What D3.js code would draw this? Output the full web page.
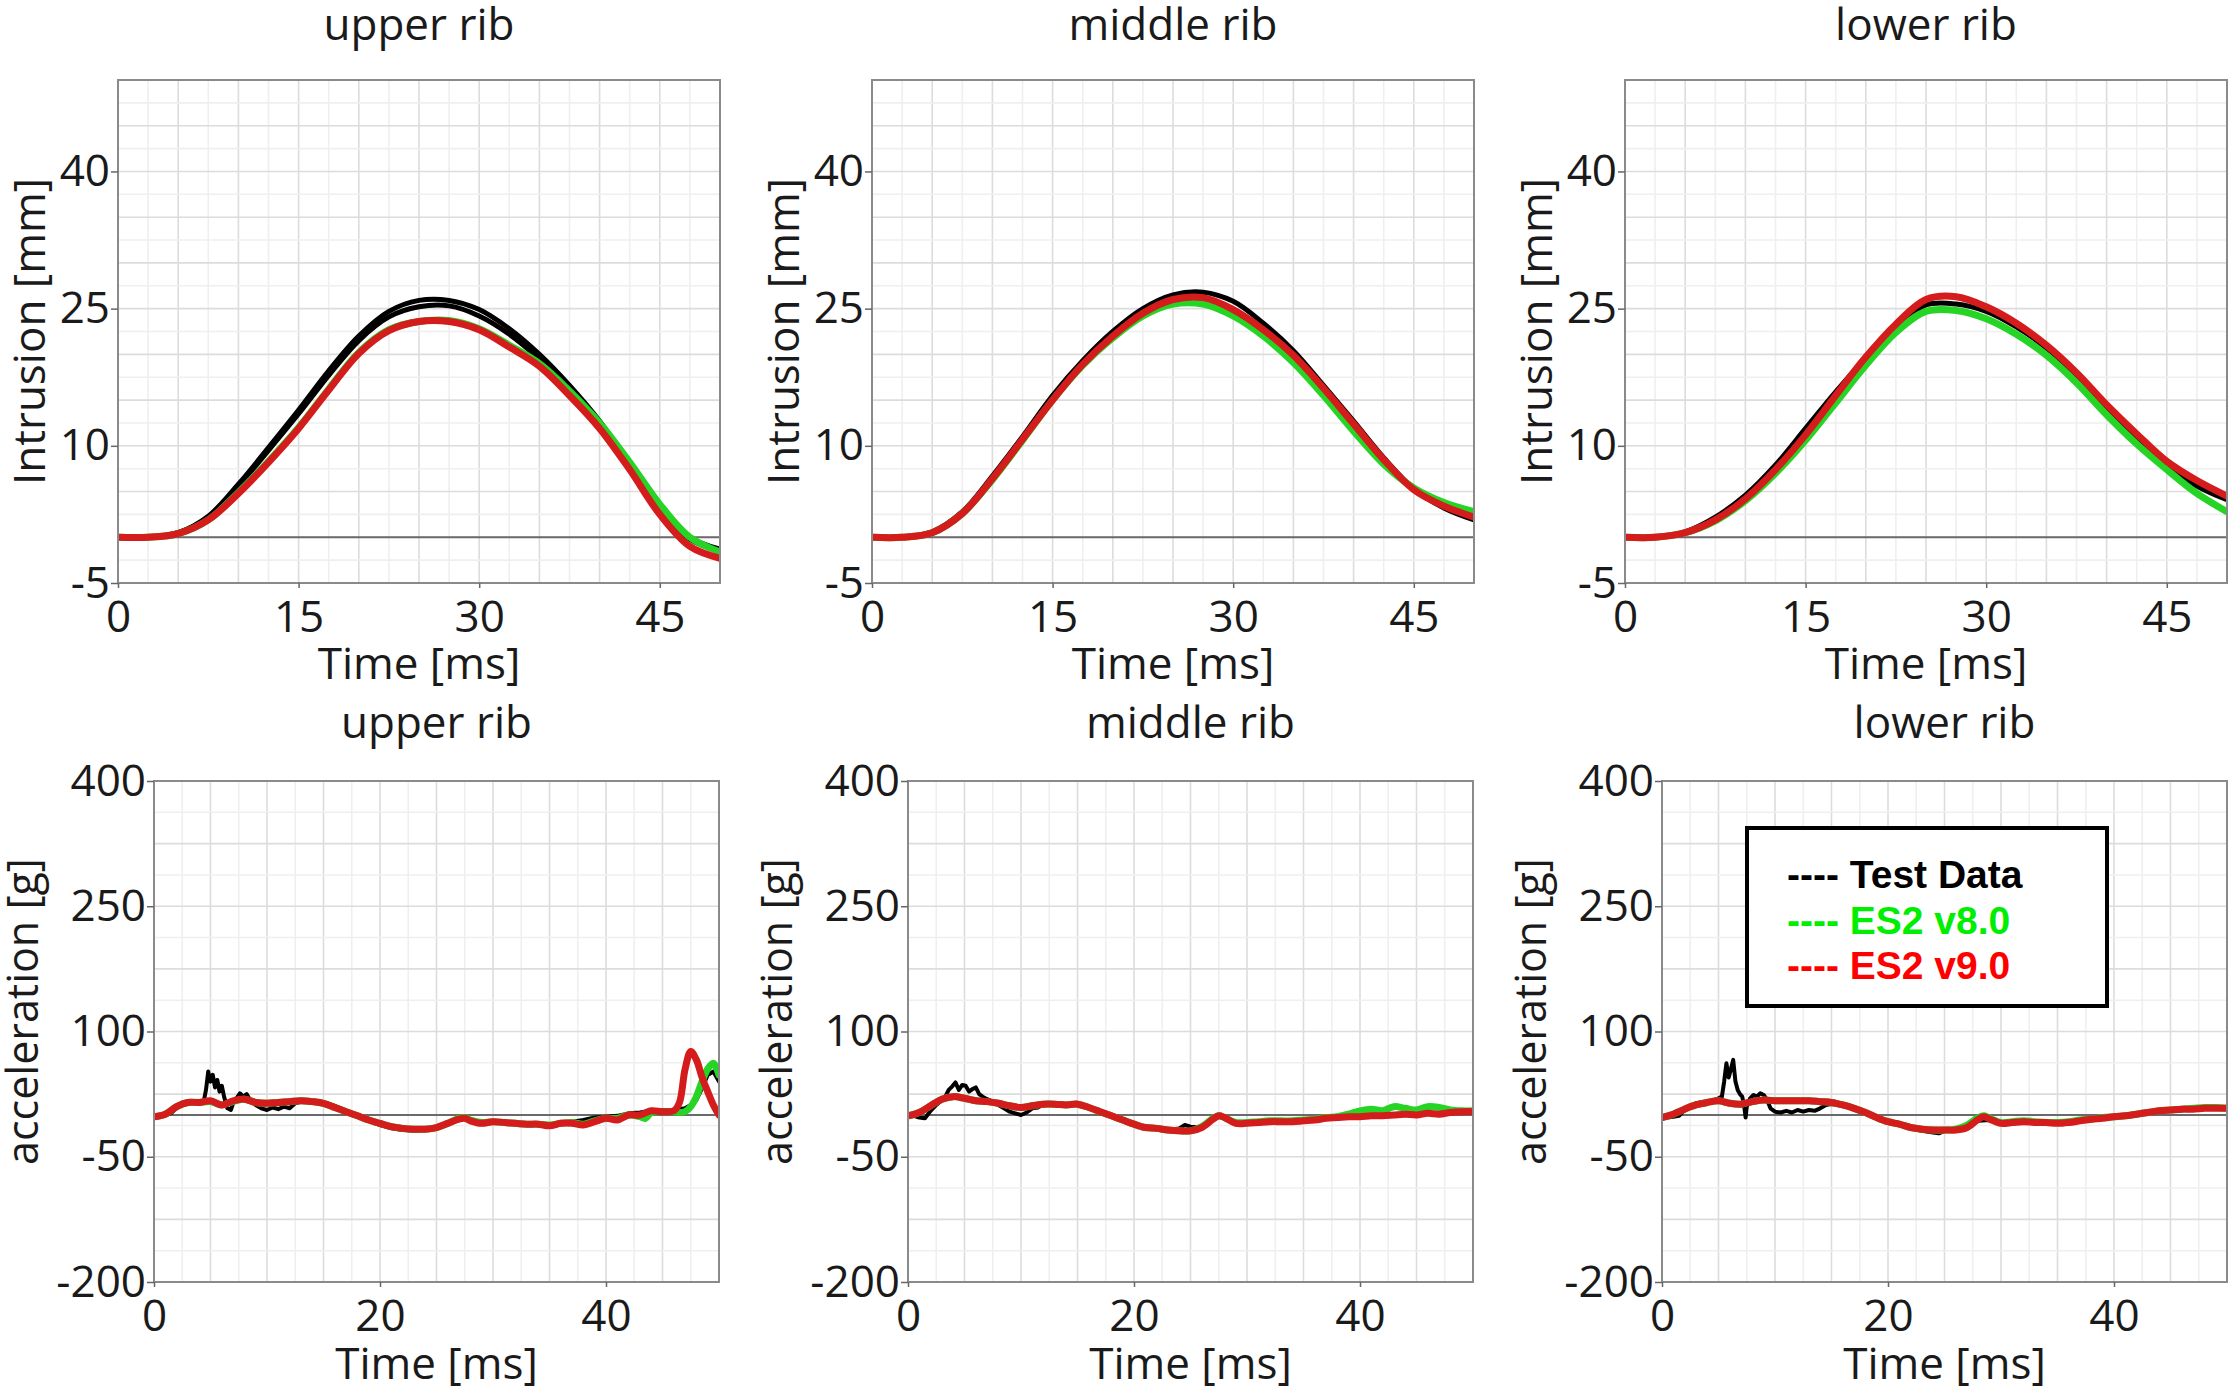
<!DOCTYPE html>
<html><head><meta charset="utf-8">
<script src="https://cdn.jsdelivr.net/npm/d3@7"></script>
<style>
body{margin:0;background:#fff;}
</style>
</head><body>
<svg id="chart" width="2231" height="1391"></svg>
<script>
// ---------------- DATA ----------------
const ribTitles = ["upper rib", "middle rib", "lower rib"];
const legendLabels = ["Test Data", "ES2 v8.0", "ES2 v9.0"];

const intrXTicks = [0, 15, 30, 45];
const intrYTicks = [-5, 10, 25, 40];
const accXTicks = [0, 20, 40];
const accYTicks = [-200, -50, 100, 250, 400];

// intrusion [mm] sampled every 2.5 ms
const intrTime = [0,2.5,5,7.5,10,12.5,15,17.5,20,22.5,25,27.5,30,32.5,35,37.5,40,42.5,45,47.5,50];
const intrUpperTestA = [0,0,0.5,2.3,5.8,9.8,13.9,18.2,22.0,24.7,25.9,25.9,24.9,22.8,20.0,16.6,12.7,8.0,3.4,0.0,-1.3];
const intrUpperTestB = [0,0,0.5,2.2,5.6,9.5,13.5,17.7,21.5,24.1,25.2,25.3,24.2,22.2,19.5,16.2,12.5,7.8,3.2,-0.2,-1.5];
const intrUpperV8    = [0,0,0.4,1.9,4.9,8.3,12.0,16.2,20.2,22.7,23.6,23.7,22.8,21.0,19.0,16.0,12.5,8.2,3.6,0.0,-1.6];
const intrUpperV9    = [0,0,0.4,1.9,4.8,8.2,11.9,16.1,20.1,22.6,23.6,23.6,22.7,20.8,18.7,15.5,11.9,7.4,2.5,-1.0,-2.3];

const intrMiddleTest = [0,0,0.6,2.8,6.7,11.0,15.5,19.3,22.5,25.0,26.5,26.8,25.8,23.4,20.4,16.6,12.7,8.7,5.3,3.2,1.9];
const intrMiddleV8   = [0,0,0.5,2.6,6.3,10.6,15.0,18.8,21.8,24.2,25.5,25.5,24.2,22.0,19.1,15.5,11.6,8.0,5.4,3.8,2.8];
const intrMiddleV9   = [0,0,0.5,2.6,6.4,10.7,15.0,18.9,22.0,24.5,26.0,26.2,24.9,22.7,19.9,16.3,12.4,8.5,5.2,3.4,2.2];

const intrLowerTest = [0,0,0.6,2.2,4.6,7.9,11.9,15.9,19.6,23.0,25.4,25.5,24.7,23.0,20.7,17.6,14.1,10.9,7.9,5.6,4.1];
const intrLowerV8   = [0,0,0.5,1.8,4.0,7.0,10.6,14.7,18.8,22.4,24.7,24.8,23.9,22.2,19.9,16.9,13.4,10.2,7.4,4.8,2.8];
const intrLowerV9   = [0,0,0.5,1.9,4.2,7.4,11.2,15.5,19.7,23.3,26.0,26.3,25.2,23.4,21.0,18.0,14.5,11.3,8.3,6.2,4.5];

// acceleration [g] as [time ms, value] pairs
const accUpperTest = [[0,-3],[0.5,-2],[1,0],[1.5,2],[2,8],[2.5,13],[3,16],[3.5,15],[4,14],[4.4,16],[4.6,30],[4.8,52],[5.0,40],[5.2,48],[5.4,33],[5.6,42],[5.8,28],[6.0,35],[6.2,22],[6.5,8],[6.8,6],[7.0,14],[7.3,20],[7.6,26],[7.9,22],[8.2,25],[8.5,18],[9,12],[9.5,8],[10,6],[10.5,9],[11,7],[11.5,10],[12,8],[12.5,14],[13,16],[14,15],[15,15],[16,11],[17,5],[18,-2],[19,-7],[20,-12],[21,-16],[22,-18],[23,-19],[24,-18],[25,-16],[26,-11],[27,-6],[27.5,-4],[28,-8],[29,-11],[30,-9],[31,-10],[32,-11],[33,-12],[34,-12],[35,-13],[36,-11],[37,-8],[38,-6],[39,-3],[40,-2],[41,-1],[42,2],[43,3],[44,5],[45,6],[46,6],[47,8],[47.5,12],[48,18],[48.5,32],[49,48],[49.5,52],[50,40]];
const accUpperV8 = [[0,-2],[1,1],[2,10],[3,15],[4,15],[5,16],[6,12],[7,16],[8,19],[9,15],[10,14],[11,15],[12,16],[13,17],[14,16],[15,14],[16,9],[17,4],[18,-1],[19,-6],[20,-10],[21,-14],[22,-16],[23,-17],[24,-17],[25,-15],[26,-10],[27,-4],[27.5,-3],[28,-6],[29,-9],[30,-8],[31,-9],[32,-10],[33,-11],[34,-11],[35,-12],[36,-10],[37,-9],[38,-11],[39,-7],[40,-4],[41,-4],[42,0],[43,-2],[43.5,-4],[44,3],[45,4],[46,4],[46.5,3],[47,4],[47.5,10],[48,22],[48.5,40],[49,55],[49.5,62],[50,48]];
const accUpperV9 = [[0,-2],[1,1],[2,10],[3,15],[4,15],[5,17],[6,12],[7,17],[8,19],[9,15],[10,14],[11,15],[12,16],[13,17],[14,16],[15,14],[16,9],[17,4],[18,-1],[19,-6],[20,-10],[21,-14],[22,-16],[23,-17],[24,-17],[25,-15],[26,-10],[27,-5],[27.5,-4],[28,-7],[29,-10],[30,-8],[31,-9],[32,-10],[33,-11],[34,-11],[35,-13],[36,-10],[37,-10],[38,-12],[39,-8],[40,-4],[41,-6],[42,0],[43,0],[44,5],[45,4],[46,5],[46.5,15],[47,55],[47.5,76],[48,66],[48.5,45],[49,28],[49.5,12],[50,0]];

const accMiddleTest = [[0,-2],[0.5,-1],[1,-3],[1.5,-4],[2,5],[2.5,12],[3,18],[3.3,22],[3.6,30],[3.9,34],[4.2,39],[4.5,30],[4.8,36],[5.1,35],[5.4,28],[5.7,31],[6.0,33],[6.3,25],[6.6,22],[7,19],[7.5,16],[8,12],[8.5,8],[9,4],[9.5,2],[10,0],[10.5,3],[11,8],[11.5,9],[12,13],[13,12],[14,13],[15,14],[16,9],[17,4],[18,-2],[19,-7],[20,-12],[21,-16],[22,-17],[23,-18],[24,-16],[24.5,-12],[25,-14],[26,-15],[27,-6],[27.5,-2],[28,-4],[29,-10],[30,-10],[31,-9],[32,-8],[33,-9],[34,-8],[35,-7],[36,-6],[37,-4],[38,-2],[39,-1],[40,-2],[41,-1],[42,0],[43,0],[44,1],[45,1],[46,2],[47,2],[48,4],[49,6],[50,6]];
const accMiddleV8 = [[0,-1],[1,3],[2,11],[3,19],[4,22],[5,20],[6,17],[7,16],[8,14],[9,11],[10,9],[11,11],[12,13],[13,13],[14,12],[15,13],[16,9],[17,4],[18,-1],[19,-6],[20,-11],[21,-15],[22,-16],[23,-18],[24,-19],[25,-19],[26,-14],[27,-4],[27.5,-1],[28,-3],[29,-9],[30,-9],[31,-8],[32,-7],[33,-7],[34,-7],[35,-6],[36,-5],[37,-3],[38,-2],[39,1],[40,5],[41,7],[42,5],[43,10],[44,8],[45,6],[46,10],[47,9],[48,6],[49,5],[50,5]];
const accMiddleV9 = [[0,-1],[1,3],[2,11],[3,19],[4,22],[5,20],[6,17],[7,16],[8,14],[9,11],[10,9],[11,11],[12,13],[13,13],[14,12],[15,13],[16,9],[17,4],[18,-1],[19,-6],[20,-11],[21,-15],[22,-16],[23,-18],[24,-19],[25,-19],[26,-15],[27,-5],[27.5,-1],[28,-3],[29,-10],[30,-10],[31,-9],[32,-8],[33,-8],[34,-8],[35,-7],[36,-6],[37,-4],[38,-3],[39,-2],[40,-2],[41,-1],[42,-1],[43,0],[44,1],[45,0],[46,2],[47,1],[48,3],[49,4],[50,4]];

const accLowerTest = [[0,-4],[0.5,-3],[1,-2],[1.5,-1],[2,6],[2.5,10],[3,14],[3.5,15],[4,16],[4.5,17],[5,20],[5.3,22],[5.5,40],[5.7,62],[5.9,45],[6.1,55],[6.3,66],[6.5,40],[6.7,30],[6.9,25],[7.1,22],[7.3,8],[7.4,-3],[7.5,10],[7.8,20],[8.1,24],[8.4,22],[8.7,26],[9,24],[9.3,18],[9.6,8],[10,4],[10.5,3],[11,5],[11.5,3],[12,6],[12.5,4],[13,6],[13.5,5],[14,8],[14.5,12],[15,13],[16,11],[17,7],[18,2],[19,-4],[20,-9],[21,-12],[22,-16],[23,-19],[24,-21],[24.5,-22],[25,-19],[26,-17],[27,-13],[28,-7],[29,-6],[30,-9],[31,-8],[32,-8],[33,-9],[34,-8],[35,-9],[36,-8],[37,-6],[38,-4],[39,-3],[40,-1],[41,-2],[42,1],[43,3],[44,4],[45,6],[46,7],[47,7],[48,8],[49,8],[50,8]];
const accLowerV8 = [[0,-3],[1,1],[2,7],[3,12],[4,15],[5,17],[6,14],[7,13],[8,16],[9,18],[10,17],[11,17],[12,17],[13,17],[14,16],[15,15],[16,12],[17,8],[18,3],[19,-3],[20,-8],[21,-11],[22,-15],[23,-17],[24,-18],[25,-18],[26,-17],[27,-12],[28,-3],[28.5,-1],[29,-4],[30,-9],[31,-8],[32,-7],[33,-8],[34,-9],[35,-9],[36,-8],[37,-6],[38,-5],[39,-3],[40,-2],[41,-1],[42,1],[43,3],[44,5],[45,6],[46,7],[47,8],[48,9],[49,9],[50,8]];
const accLowerV9 = [[0,-3],[1,1],[2,7],[3,12],[4,15],[5,17],[6,14],[7,13],[8,16],[9,18],[10,17],[11,17],[12,17],[13,17],[14,16],[15,15],[16,12],[17,8],[18,3],[19,-3],[20,-8],[21,-11],[22,-15],[23,-17],[24,-18],[25,-18],[26,-18],[27,-15],[28,-5],[28.5,-2],[29,-5],[30,-10],[31,-9],[32,-8],[33,-9],[34,-9],[35,-10],[36,-9],[37,-7],[38,-5],[39,-4],[40,-2],[41,-1],[42,1],[43,3],[44,5],[45,6],[46,7],[47,7],[48,8],[49,8],[50,8]];

// ---------------- DRAWING ----------------
const svg = d3.select("#chart");
const FONT = "'Open Sans','Noto Sans',sans-serif";
const TXT = "#1a1a1a";
const COL = {test: "#000000", v8: "#25d425", v9: "#d41c1c"};
const zip = (t, v) => t.map((d, i) => [d, v[i]]);

const intrSeries = [
  [{k:"test", d:zip(intrTime, intrUpperTestA)}, {k:"test", d:zip(intrTime, intrUpperTestB)}, {k:"v8", d:zip(intrTime, intrUpperV8)}, {k:"v9", d:zip(intrTime, intrUpperV9)}],
  [{k:"test", d:zip(intrTime, intrMiddleTest)}, {k:"v8", d:zip(intrTime, intrMiddleV8)}, {k:"v9", d:zip(intrTime, intrMiddleV9)}],
  [{k:"test", d:zip(intrTime, intrLowerTest)}, {k:"v8", d:zip(intrTime, intrLowerV8)}, {k:"v9", d:zip(intrTime, intrLowerV9)}]
];
const accSeries = [
  [{k:"test", d:accUpperTest, lin:true}, {k:"v8", d:accUpperV8}, {k:"v9", d:accUpperV9}],
  [{k:"test", d:accMiddleTest, lin:true}, {k:"v8", d:accMiddleV8}, {k:"v9", d:accMiddleV9}],
  [{k:"test", d:accLowerTest, lin:true}, {k:"v8", d:accLowerV8}, {k:"v9", d:accLowerV9}]
];

let clipN = 0;
function panel(o) {
  const g = svg.append("g").attr("transform", `translate(${o.left},${o.top})`);
  const x = d3.scaleLinear().domain([0, 50]).range([0, o.w]);
  const y = d3.scaleLinear().domain(o.yDom).range([o.h, 0]);
  const id = "clip" + (clipN++);
  g.append("clipPath").attr("id", id).append("rect").attr("width", o.w).attr("height", o.h);

  // grid: minor (light) and major
  const gx = d3.range(0, 50.001, o.gx / 2), gy = d3.range(o.yDom[0], o.yDom[1] + 0.001, o.gy / 2);
  g.append("g").selectAll("line").data(gx).join("line")
    .attr("x1", d => x(d)).attr("x2", d => x(d)).attr("y1", 0).attr("y2", o.h)
    .attr("stroke", (d, i) => i % 2 ? "#efefef" : "#dcdcdc").attr("stroke-width", 1.6);
  g.append("g").selectAll("line").data(gy).join("line")
    .attr("y1", d => y(d)).attr("y2", d => y(d)).attr("x1", 0).attr("x2", o.w)
    .attr("stroke", (d, i) => i % 2 ? "#efefef" : "#dcdcdc").attr("stroke-width", 1.6);

  // zero line
  g.append("line").attr("x1", 0).attr("x2", o.w).attr("y1", y(0)).attr("y2", y(0))
    .attr("stroke", "#6a6a6a").attr("stroke-width", 2);

  // series
  const lg = g.append("g").attr("clip-path", `url(#${id})`);
  o.series.forEach(s => {
    const line = d3.line().x(d => x(d[0])).y(d => y(d[1]))
      .curve(s.lin ? d3.curveLinear : d3.curveCatmullRom.alpha(0.5));
    lg.append("path").attr("d", line(s.d)).attr("fill", "none")
      .attr("stroke", COL[s.k]).attr("stroke-width", s.k === "test" ? o.tw : 7)
      .attr("stroke-linejoin", "round").attr("stroke-linecap", "round");
  });

  // border
  g.append("rect").attr("width", o.w).attr("height", o.h).attr("fill", "none")
    .attr("stroke", "#8a8a8a").attr("stroke-width", 2);

  // axes
  const fmt = d => String(d);
  const ax = g.append("g").attr("transform", `translate(0,${o.h})`)
    .call(d3.axisBottom(x).tickValues(o.xt).tickFormat(fmt).tickSize(5).tickPadding(13));
  const ay = g.append("g").call(d3.axisLeft(y).tickValues(o.yt).tickFormat(fmt).tickSize(7).tickPadding(1));
  [ax, ay].forEach(a => {
    a.select(".domain").remove();
    a.selectAll(".tick line").attr("stroke", "#666").attr("stroke-width", 1.5);
    a.selectAll(".tick text").attr("font-size", 44).attr("font-family", FONT).attr("fill", TXT);
  });

  // title & labels
  g.append("text").attr("x", o.w / 2).attr("y", o.titleY).attr("text-anchor", "middle")
    .attr("font-family", FONT).attr("fill", TXT).attr("font-size", 44).text(o.title);
  g.append("text").attr("x", o.w / 2).attr("y", o.h + o.xlabY).attr("text-anchor", "middle")
    .attr("font-family", FONT).attr("fill", TXT).attr("font-size", 44).text("Time [ms]");
  g.append("text").attr("transform", `translate(${o.ylabX},${o.h / 2 + o.ylabDy}) rotate(-90)`)
    .attr("text-anchor", "middle").attr("font-family", FONT).attr("fill", TXT)
    .attr("font-size", o.ylabSize).text(o.ylab);
}

const topLefts = [118, 872, 1625];
const botLefts = [154, 908, 1662];
ribTitles.forEach((t, i) => {
  panel({left: topLefts[i], top: 80, w: 602, h: 503, yDom: [-5, 50], xt: intrXTicks, yt: intrYTicks,
    gx: 5, gy: 5, title: t, titleY: -40, xlabY: 96, ylabX: -73, ylabDy: 0, ylabSize: 44,
    ylab: "Intrusion [mm]", series: intrSeries[i], tw: 5});
  panel({left: botLefts[i], top: 781, w: 565, h: 501, yDom: [-200, 400], xt: accXTicks, yt: accYTicks,
    gx: 5, gy: 75, title: t, titleY: -43, xlabY: 97, ylabX: -116, ylabDy: -20, ylabSize: 43,
    ylab: "acceleration [g]", series: accSeries[i], tw: 4});
});

// legend
const leg = svg.append("g").attr("transform", "translate(1747,828)");
leg.append("rect").attr("width", 360).attr("height", 178).attr("fill", "#fff")
  .attr("stroke", "#000").attr("stroke-width", 4);
const legCols = ["#000000", "#00ee00", "#ff0000"];
leg.selectAll("text.l").data(legendLabels).join("text").attr("class", "l")
  .attr("x", 40).attr("y", (d, i) => 60 + i * 45.5)
  .attr("font-family", "'Liberation Sans', Arial, sans-serif").attr("font-weight", "bold")
  .attr("font-size", 39).attr("fill", (d, i) => legCols[i])
  .text(d => "---- " + d);
</script>
</body></html>
